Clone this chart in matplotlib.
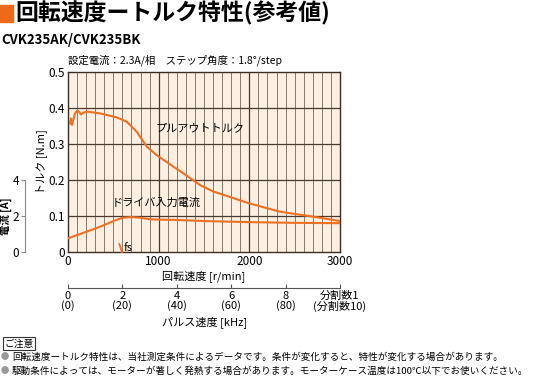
import matplotlib
matplotlib.use('Agg')
import matplotlib.pyplot as plt
from matplotlib.patches import Rectangle

JP = ['Noto Sans CJK JP', 'DejaVu Sans']
plt.rcParams['font.family'] = JP

# pull-out torque [N.m] vs speed [r/min]
speed_t = [22, 33, 44, 58, 77, 103, 121, 143, 169, 213, 353, 537, 647, 758,
           868, 978, 1162, 1235, 1456, 1603, 2000, 2338, 2706, 3000]
torque = [0.357, 0.371, 0.353, 0.367, 0.385, 0.393, 0.390, 0.382, 0.387, 0.390,
          0.385, 0.374, 0.362, 0.334, 0.293, 0.269, 0.237, 0.225, 0.186, 0.168,
          0.135, 0.112, 0.098, 0.086]

# driver input current [A] vs speed [r/min]
speed_i = [0, 100, 200, 300, 400, 500, 600, 700, 800, 900, 1000, 1200, 1500,
           2000, 2500, 3000]
current = [0.76, 0.94, 1.12, 1.30, 1.50, 1.72, 1.90, 1.94, 1.90, 1.82, 1.80,
           1.78, 1.72, 1.66, 1.62, 1.60]

# fs (starting frequency) marker
fs_speed = [566, 596]
fs_torque = [0.022, 0.0]

pulse_ticks = [0, 2, 4, 6, 8, 10]
pulse_labels = ['0\n(0)', '2\n(20)', '4\n(40)', '6\n(60)', '8\n(80)', '分割数1\n(分割数10)']

W, H = 536, 378
fig = plt.figure(figsize=(W / 100, H / 100), dpi=100)

def fx(px):
    return px / W

def fy(py):
    return 1 - py / H

orange = '#f07022'
dark = '#3c2c22'

# main axes
x0, x1, y0, y1 = 68, 340, 72, 252
ax = fig.add_axes([fx(x0), fy(y1), fx(x1 - x0), (y1 - y0) / H])
ax.set_facecolor('#fdf0e3')
ax.set_xlim(0, 3000)
ax.set_ylim(0, 0.5)
for v in range(100, 3000, 100):
    if v % 1000 == 0:
        ax.axvline(v, color='#4a3a30', lw=0.9, zorder=1)
    else:
        ax.axvline(v, color='#8a7868', lw=0.7, zorder=1)
for t in [0.1, 0.2, 0.3, 0.4]:
    ax.axhline(t, color='#4a3a30', lw=0.9, zorder=1)
for s in ax.spines.values():
    s.set_color(dark)
    s.set_linewidth(1.0)

ax.plot(speed_t, torque, color=orange, lw=1.5, zorder=3)
ax.plot(speed_i, [c / 20 for c in current], color=orange, lw=1.5, zorder=3)
ax.plot(fs_speed, fs_torque, color=orange, lw=1.3, zorder=3, clip_on=False)
ax.text(615, 0.012, 'fs', fontsize=8, va='center', ha='left', zorder=4)
ax.text(960, 0.344, 'プルアウトトルク', fontsize=8, va='center', ha='left', zorder=4)
ax.text(480, 0.138, 'ドライバ入力電流', fontsize=8, va='center', ha='left', zorder=4)

ax.set_xticks([0, 1000, 2000, 3000])
ax.set_yticks([0, 0.1, 0.2, 0.3, 0.4, 0.5])
ax.set_yticklabels(['0', '0.1', '0.2', '0.3', '0.4', '0.5'])
ax.tick_params(length=0, labelsize=8.5, pad=2)
ax.set_xlabel('回転速度 [r/min]', fontsize=8, labelpad=2)

# current axis
ax2 = fig.add_axes([fx(25), fy(y1), 0.001, (y1 - y0) / H])
ax2.set_ylim(0, 10)
ax2.patch.set_visible(False)
for k in ['top', 'right', 'bottom']:
    ax2.spines[k].set_visible(False)
ax2.spines['left'].set_bounds(0, 4)
ax2.spines['left'].set_color('#888888')
ax2.set_xticks([])
ax2.set_yticks([0, 2, 4])
ax2.tick_params(axis='y', length=3, color='#888888', labelsize=8.5, pad=1)
fig.text(fx(6), fy(216), '電流 [A]', rotation=90, fontsize=7.5, ha='center', va='center',
         fontweight='bold')
fig.text(fx(41), fy(162), 'トルク [N.m]', rotation=90, fontsize=8, ha='center', va='center')

# pulse speed axis
ax3 = fig.add_axes([fx(x0), fy(288), fx(x1 - x0), 0.001])
ax3.set_xlim(0, 10)
ax3.patch.set_visible(False)
for k in ['top', 'right', 'left']:
    ax3.spines[k].set_visible(False)
ax3.spines['bottom'].set_color('#555555')
ax3.set_yticks([])
ax3.set_xticks(pulse_ticks)
ax3.set_xticklabels(pulse_labels, linespacing=0.95)
ax3.tick_params(axis='x', direction='in', length=3, color='#555555', labelsize=8, pad=2)
fig.text(fx(205), fy(322), 'パルス速度 [kHz]', fontsize=8, ha='center', va='center')

# header
fig.patches.append(Rectangle((fx(0), fy(22)), fx(13), 17 / H, transform=fig.transFigure,
                             color='#ee6a1a'))
fig.text(fx(15), fy(13.5), '回転速度ートルク特性(参考値)', fontsize=16.5, fontweight='bold',
         ha='left', va='center')
fig.text(fx(1), fy(40), 'CVK235AK/CVK235BK', fontsize=9.5, fontweight='bold',
         ha='left', va='center')
fig.text(fx(68), fy(60), '設定電流：2.3A/相　ステップ角度：1.8°/step', fontsize=7.5,
         ha='left', va='center')

# notes
fig.text(fx(4), fy(343.5), 'ご注意', fontsize=7, ha='left', va='center',
         bbox=dict(boxstyle='square,pad=0.15', fc='white', ec='#333333', lw=0.8))
notes = ['回転速度ートルク特性は、当社測定条件によるデータです。条件が変化すると、特性が変化する場合があります。',
         '駆動条件によっては、モーターが著しく発熱する場合があります。モーターケース温度は100℃以下でお使いください。']
for i, n in enumerate(notes):
    yy = fy(357 + 14 * i)
    fig.text(fx(1), yy, '●', fontsize=6, color='#999999', ha='left', va='center')
    fig.text(fx(12), yy, n, fontsize=6.9, ha='left', va='center')

fig.savefig('out.png', dpi=100)
